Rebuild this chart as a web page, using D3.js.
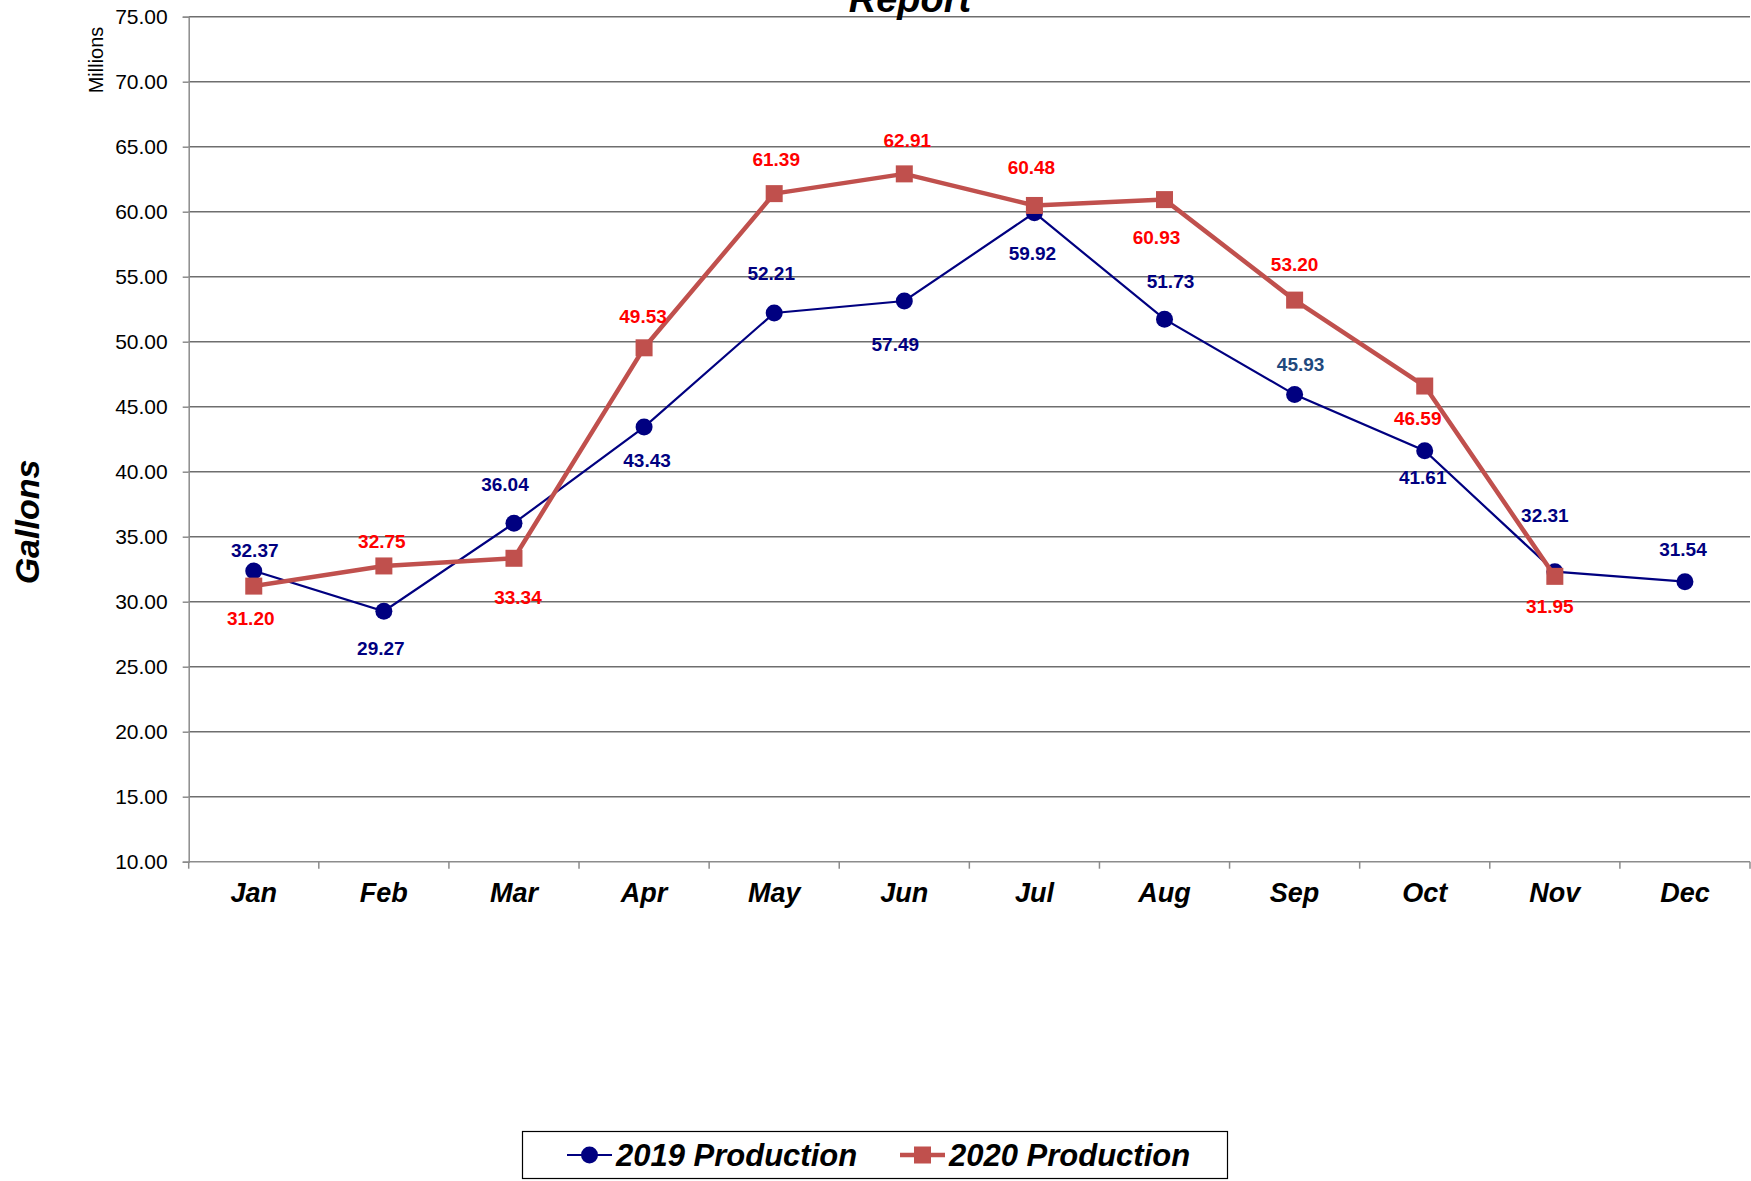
<!DOCTYPE html>
<html lang="en">
<head>
    <meta charset="UTF-8">
    <title>Production Report</title>
    <script src="https://cdnjs.cloudflare.com/ajax/libs/d3/7.8.5/d3.min.js"></script>
    <style>
      body {
        margin: 0;
        background-color: white;
        font-family: "Liberation Sans", Arial, sans-serif;
      }
    </style>
</head>
<body>
    <div id="chart"></div>

    <script>
        // chart values
        const months = ['Jan','Feb','Mar','Apr','May','Jun','Jul','Aug','Sep','Oct','Nov','Dec'];
        const prod2019 = [32.37, 29.27, 36.04, 43.43, 52.21, 53.13, 59.92, 51.73, 45.93, 41.61, 32.31, 31.54];
        const labels2019 = ['32.37','29.27','36.04','43.43','52.21','57.49','59.92','51.73','45.93','41.61','32.31','31.54'];
        const prod2020 = [31.20, 32.75, 33.34, 49.53, 61.39, 62.91, 60.48, 60.93, 53.20, 46.59, 31.95, null];
        const yTicks = [10, 15, 20, 25, 30, 35, 40, 45, 50, 55, 60, 65, 70, 75];
        const seriesNames = ['2019 Production', '2020 Production'];

        // where each data label sits relative to its point
        const off2019 = [[1,-21],[-3,37],[-9,-39],[3,33],[-3,-40],[-9,43],[-2,40],[6,-38],[6,-31],[-2,26],[-10,-57],[-2,-33]];
        const off2020 = [[-3,32],[-2,-25],[4,39],[-1,-32],[2,-35],[3,-34],[-3,-38],[-8,37],[0,-36],[-7,32],[-5,30]];

        const width = 1751;
        const height = 1181;
        const plotLeft = 188.7, plotRight = 1750, plotTop = 16.7, plotBottom = 861.7;

        const navy = '#000080';
        const brick = '#C0504D';

        const svg = d3.select('#chart').append('svg')
            .attr('width', width)
            .attr('height', height);

        const x = d3.scaleBand().domain(months).range([plotLeft, plotRight]).paddingInner(0).paddingOuter(0);
        const y = d3.scaleLinear().domain([10, 75]).range([plotBottom, plotTop]);
        const cx = m => x(m) + x.bandwidth() / 2;

        // gridlines
        svg.append('g')
            .selectAll('line')
            .data(yTicks.filter(t => t > 10))
            .join('line')
            .attr('x1', plotLeft).attr('x2', plotRight)
            .attr('y1', d => y(d)).attr('y2', d => y(d))
            .attr('stroke', '#6e6e6e')
            .attr('stroke-width', 1.5);

        // y axis
        const yAxis = svg.append('g')
            .attr('transform', `translate(${plotLeft},0)`)
            .call(d3.axisLeft(y).tickValues(yTicks).tickFormat(d3.format('.2f')).tickSize(6).tickPadding(15));
        yAxis.select('.domain').attr('stroke', '#8c8c8c').attr('stroke-width', 1.5);
        yAxis.selectAll('.tick line').attr('stroke', '#8c8c8c').attr('stroke-width', 1.5);
        yAxis.selectAll('.tick text')
            .attr('font-family', '"Liberation Sans", Arial, sans-serif')
            .attr('font-size', 21)
            .attr('fill', '#000');

        // x axis (ticks on band edges)
        svg.append('line')
            .attr('x1', plotLeft).attr('x2', plotRight)
            .attr('y1', plotBottom).attr('y2', plotBottom)
            .attr('stroke', '#8c8c8c').attr('stroke-width', 1.5);
        const edges = months.map(m => x(m)).concat([plotRight]);
        svg.append('g')
            .selectAll('line')
            .data(edges)
            .join('line')
            .attr('x1', d => d).attr('x2', d => d)
            .attr('y1', plotBottom).attr('y2', plotBottom + 7)
            .attr('stroke', '#8c8c8c').attr('stroke-width', 1.5);
        svg.append('g')
            .selectAll('text')
            .data(months)
            .join('text')
            .attr('x', d => cx(d))
            .attr('y', plotBottom + 40)
            .attr('text-anchor', 'middle')
            .attr('font-size', 27)
            .attr('font-weight', 'bold')
            .attr('font-style', 'italic')
            .text(d => d);

        // titles
        svg.append('text')
            .attr('x', 910).attr('y', 12)
            .attr('text-anchor', 'middle')
            .attr('font-size', 38)
            .attr('font-weight', 'bold')
            .attr('font-style', 'italic')
            .text('Report');

        svg.append('text')
            .attr('transform', 'translate(39,522) rotate(-90)')
            .attr('text-anchor', 'middle')
            .attr('font-size', 34)
            .attr('font-weight', 'bold')
            .attr('font-style', 'italic')
            .text('Gallons');

        svg.append('text')
            .attr('transform', 'translate(103,60) rotate(-90)')
            .attr('text-anchor', 'middle')
            .attr('font-size', 20)
            .text('Millions');

        // 2019 series
        const d2019 = months.map((m, i) => ({m: m, v: prod2019[i], label: labels2019[i], off: off2019[i]}));
        const d2020 = months.map((m, i) => ({m: m, v: prod2020[i], label: prod2020[i] == null ? null : prod2020[i].toFixed(2), off: off2020[i]}))
            .filter(d => d.v != null);

        const line = d3.line().x(d => cx(d.m)).y(d => y(d.v));

        svg.append('path')
            .datum(d2019)
            .attr('d', line)
            .attr('fill', 'none')
            .attr('stroke', navy)
            .attr('stroke-width', 2.2);

        svg.append('g')
            .selectAll('circle')
            .data(d2019)
            .join('circle')
            .attr('cx', d => cx(d.m))
            .attr('cy', d => y(d.v))
            .attr('r', 8.5)
            .attr('fill', navy);

        // 2020 series
        svg.append('path')
            .datum(d2020)
            .attr('d', line)
            .attr('fill', 'none')
            .attr('stroke', brick)
            .attr('stroke-width', 4.5)
            .attr('stroke-linejoin', 'round');

        svg.append('g')
            .selectAll('rect')
            .data(d2020)
            .join('rect')
            .attr('x', d => cx(d.m) - 8.5)
            .attr('y', d => y(d.v) - 8.5)
            .attr('width', 17)
            .attr('height', 17)
            .attr('fill', brick);

        // data labels
        svg.append('g')
            .selectAll('text')
            .data(d2019)
            .join('text')
            .attr('x', d => cx(d.m) + d.off[0])
            .attr('y', d => y(d.v) + d.off[1] + 7)
            .attr('text-anchor', 'middle')
            .attr('font-size', 19)
            .attr('font-weight', 'bold')
            .attr('fill', d => d.m === 'Sep' ? '#1F497D' : navy)
            .text(d => d.label);

        svg.append('g')
            .selectAll('text')
            .data(d2020)
            .join('text')
            .attr('x', d => cx(d.m) + d.off[0])
            .attr('y', d => y(d.v) + d.off[1] + 7)
            .attr('text-anchor', 'middle')
            .attr('font-size', 19)
            .attr('font-weight', 'bold')
            .attr('fill', '#FF0000')
            .text(d => d.label);

        // legend
        const lg = svg.append('g');
        lg.append('rect')
            .attr('x', 522.5).attr('y', 1131.5)
            .attr('width', 705).attr('height', 47)
            .attr('fill', 'white')
            .attr('stroke', '#000')
            .attr('stroke-width', 1.2);

        const legendItems = [
            {name: seriesNames[0], color: navy, x: 567, shape: 'circle', w: 2.2},
            {name: seriesNames[1], color: brick, x: 900, shape: 'square', w: 4.5}
        ];
        const ly = 1155;
        legendItems.forEach(it => {
            lg.append('line')
                .attr('x1', it.x).attr('x2', it.x + 45)
                .attr('y1', ly).attr('y2', ly)
                .attr('stroke', it.color).attr('stroke-width', it.w);
            if (it.shape === 'circle') {
                lg.append('circle').attr('cx', it.x + 22.5).attr('cy', ly).attr('r', 8.5).attr('fill', it.color);
            } else {
                lg.append('rect').attr('x', it.x + 14).attr('y', ly - 8.5).attr('width', 17).attr('height', 17).attr('fill', it.color);
            }
            lg.append('text')
                .attr('x', it.x + 49)
                .attr('y', ly + 11)
                .attr('font-size', 31)
                .attr('font-weight', 'bold')
                .attr('font-style', 'italic')
                .text(it.name);
        });
    </script>
</body>
</html>
